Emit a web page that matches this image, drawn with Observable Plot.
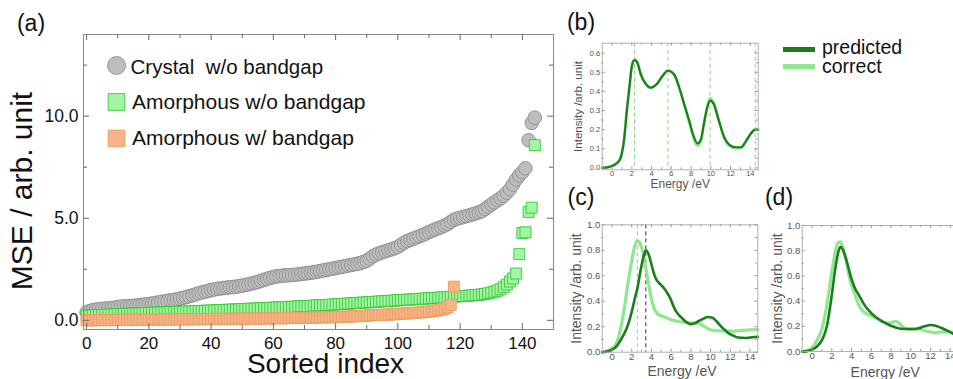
<!DOCTYPE html>
<html><head><meta charset="utf-8">
<script src="https://cdn.jsdelivr.net/npm/d3@7"></script>
<script src="https://cdn.jsdelivr.net/npm/@observablehq/plot@0.6"></script>
<style>
body{margin:0;background:#fff;overflow:hidden}
#root{position:relative;width:953px;height:379px;overflow:hidden;font-family:"Liberation Sans",Arial,sans-serif;color:#111}
#root svg{position:absolute}
.lbl{position:absolute;font-size:23px;line-height:1;transform:translate(-50%,-50%);white-space:nowrap}
.leg{position:absolute;font-size:19.5px;line-height:1;transform:translateY(-50%);white-space:nowrap}
.bar{position:absolute;width:32px;height:5px}
</style></head><body><div id="root">
<div class="lbl" style="left:31px;top:23px">(a)</div>
<div class="lbl" style="left:581px;top:22px">(b)</div>
<div class="lbl" style="left:581px;top:197px">(c)</div>
<div class="lbl" style="left:779px;top:197px">(d)</div>
<div class="bar" style="left:783px;top:46.5px;background:#1a7f1a"></div>
<div class="leg" style="left:822px;top:47.5px">predicted</div>
<div class="bar" style="left:783px;top:63.5px;background:#8ee88e"></div>
<div class="leg" style="left:822px;top:67px">correct</div>
</div>
<script>
// ---------- Panel (a) data ----------
const crystalMSE = [
0.40,0.45,0.50,0.52,0.55,0.56,0.57,0.58,0.60,0.62,
0.65,0.67,0.68,0.69,0.70,0.71,0.72,0.74,0.76,0.78,
0.80,0.82,0.85,0.87,0.90,0.92,0.95,0.98,1.00,1.03,
1.06,1.10,1.14,1.18,1.22,1.27,1.32,1.36,1.40,1.44,
1.48,1.51,1.54,1.56,1.58,1.60,1.62,1.63,1.65,1.67,
1.70,1.73,1.76,1.80,1.84,1.88,1.93,1.98,2.03,2.08,
2.12,2.15,2.17,2.19,2.20,2.21,2.22,2.23,2.25,2.27,
2.29,2.31,2.33,2.35,2.38,2.41,2.44,2.47,2.50,2.53,
2.56,2.59,2.62,2.65,2.68,2.71,2.74,2.77,2.81,2.86,
2.92,3.02,3.14,3.22,3.28,3.33,3.38,3.43,3.48,3.53,
3.60,3.70,3.80,3.88,3.94,4.00,4.06,4.12,4.18,4.25,
4.32,4.39,4.45,4.51,4.57,4.64,4.72,4.82,4.92,4.98,
5.02,5.06,5.10,5.14,5.19,5.24,5.29,5.35,5.45,5.56,
5.67,5.78,5.88,5.98,6.10,6.25,6.42,6.65,6.90,7.10,
7.25,7.45,8.82,9.67,9.93];
const amorphNoGapMSE = [
0.22,0.23,0.24,0.25,0.26,0.26,0.27,0.28,0.28,0.29,
0.30,0.30,0.31,0.32,0.32,0.33,0.34,0.34,0.35,0.36,
0.36,0.37,0.37,0.38,0.38,0.39,0.39,0.40,0.40,0.41,
0.42,0.42,0.43,0.43,0.44,0.45,0.45,0.46,0.47,0.47,
0.48,0.49,0.49,0.50,0.51,0.51,0.52,0.53,0.53,0.54,
0.55,0.55,0.56,0.57,0.57,0.58,0.59,0.60,0.60,0.61,
0.62,0.63,0.63,0.64,0.65,0.66,0.66,0.67,0.68,0.69,
0.70,0.70,0.71,0.72,0.73,0.74,0.74,0.75,0.76,0.77,
0.78,0.79,0.80,0.81,0.82,0.83,0.84,0.85,0.86,0.87,
0.88,0.89,0.90,0.91,0.92,0.93,0.94,0.95,0.96,0.97,
0.98,0.99,1.00,1.01,1.02,1.03,1.04,1.05,1.06,1.07,
1.08,1.09,1.10,1.11,1.12,1.13,1.14,1.15,1.16,1.17,
1.18,1.19,1.20,1.21,1.22,1.24,1.25,1.27,1.29,1.32,
1.36,1.40,1.45,1.52,1.62,1.75,1.90,2.05,2.29,3.24,
4.28,4.31,5.31,5.52,8.58];
const amorphGapMSE = [
0.00,0.00,0.00,0.00,0.01,0.01,0.01,0.01,0.01,0.01,
0.02,0.02,0.02,0.02,0.02,0.03,0.03,0.03,0.03,0.03,
0.03,0.03,0.04,0.04,0.04,0.04,0.04,0.04,0.05,0.05,
0.05,0.05,0.05,0.05,0.05,0.06,0.06,0.06,0.06,0.06,
0.06,0.06,0.07,0.07,0.07,0.07,0.07,0.07,0.07,0.08,
0.08,0.08,0.08,0.08,0.08,0.09,0.09,0.09,0.09,0.09,
0.10,0.10,0.10,0.10,0.11,0.11,0.11,0.11,0.12,0.12,
0.12,0.13,0.13,0.13,0.14,0.14,0.14,0.15,0.15,0.16,
0.16,0.17,0.17,0.18,0.18,0.19,0.20,0.20,0.21,0.22,
0.23,0.24,0.25,0.26,0.26,0.27,0.28,0.28,0.29,0.30,
0.31,0.32,0.33,0.34,0.35,0.36,0.37,0.38,0.40,0.41,
0.43,0.45,0.47,0.50,0.53,0.57,0.64,0.76,1.65];
const seriesNames = ["Crystal  w/o bandgap", "Amorphous w/o bandgap", "Amorphous w/ bandgap"];
const indexTicks = [0,20,40,60,80,100,120,140];
const indexMinor = [10,30,50,70,90,110,130];
const mseTicks = [0,5,10];
const mseMinor = [2.5,7.5,12.5];

// ---------- Panels (b)-(d) data ----------
const energyTicks = [0,2,4,6,8,10,12,14];
const energyMinor = [1,3,5,7,9,11,13];
const intensityTicksB = [0,0.1,0.2,0.3,0.4,0.5,0.6];
const intensityMinorB = [0.05,0.15,0.25,0.35,0.45,0.55];
const intensityTicksCD = [0,0.2,0.4,0.6,0.8,1.0];
const intensityMinorCD = [0.1,0.3,0.5,0.7,0.9];

const energyB = [-1,-0.5,0,0.5,0.85,1.2,1.5,1.8,2.0,2.27,2.6,2.9,3.4,3.9,4.6,5.1,5.66,6.27,6.8,7.3,7.8,8.3,8.64,9.0,9.3,9.66,9.93,10.3,10.8,11.36,11.9,12.5,13.05,13.56,14.07,14.5,14.8];
const predictedB = [0,0.003,0.01,0.025,0.05,0.14,0.30,0.44,0.53,0.563,0.545,0.49,0.44,0.42,0.443,0.48,0.508,0.49,0.42,0.335,0.25,0.16,0.128,0.15,0.23,0.32,0.352,0.333,0.25,0.16,0.12,0.108,0.108,0.14,0.18,0.2,0.2];
const correctB = [0,0.003,0.01,0.026,0.052,0.145,0.31,0.45,0.535,0.567,0.548,0.49,0.44,0.418,0.442,0.48,0.51,0.49,0.42,0.33,0.24,0.15,0.117,0.14,0.23,0.325,0.363,0.34,0.25,0.155,0.115,0.103,0.105,0.138,0.18,0.2,0.2];
const peaksB = [2.27,5.66,9.93,14.5];

const energyC = [-1,-0.5,0,0.5,0.83,1.2,1.5,1.8,2.1,2.3,2.57,2.8,3.1,3.43,3.7,4.0,4.2,4.5,4.7,5.2,5.8,6.5,7.2,8.0,8.5,8.8,9.2,9.7,10.2,10.8,11.3,11.8,12.3,12.8,13.5,14.0,14.8];
const correctC = [0,0.01,0.03,0.08,0.17,0.32,0.48,0.63,0.76,0.83,0.876,0.86,0.8,0.66,0.54,0.42,0.36,0.31,0.295,0.28,0.26,0.245,0.235,0.23,0.23,0.228,0.21,0.185,0.172,0.168,0.168,0.166,0.166,0.168,0.172,0.175,0.178];
const predictedC = [0,0.005,0.02,0.05,0.09,0.14,0.19,0.26,0.35,0.42,0.5,0.6,0.72,0.8,0.77,0.69,0.63,0.57,0.55,0.51,0.44,0.32,0.26,0.22,0.23,0.245,0.26,0.276,0.27,0.225,0.185,0.15,0.13,0.115,0.112,0.115,0.12];
const peakCorrectC = [2.57];
const peakPredictedC = [3.43];

const energyD = [-1,-0.5,0,0.5,1.0,1.5,2.0,2.3,2.6,2.85,3.1,3.5,3.9,4.3,4.8,5.3,5.8,6.5,7.2,7.8,8.5,9.0,9.6,10.2,10.8,11.4,12.0,12.5,13.0,13.7,14.3,14.8];
const correctD = [0,0.005,0.03,0.09,0.18,0.37,0.63,0.77,0.86,0.87,0.83,0.7,0.55,0.46,0.36,0.31,0.29,0.265,0.235,0.225,0.24,0.21,0.18,0.178,0.18,0.165,0.155,0.148,0.155,0.16,0.15,0.14];
const predictedD = [0,0.003,0.015,0.04,0.09,0.2,0.45,0.63,0.77,0.83,0.81,0.72,0.6,0.51,0.44,0.37,0.32,0.27,0.235,0.21,0.19,0.18,0.178,0.178,0.185,0.2,0.21,0.205,0.19,0.165,0.14,0.115];

// ---------- helpers ----------
const FONT = "'Liberation Sans', Arial, sans-serif";
const DARK = "#1a7f1a", LIGHT = "#8ee88e";
const root = document.getElementById("root");
function place(svg, left, top) {
  svg.style.left = left + "px"; svg.style.top = top + "px";
  root.appendChild(svg);
}
function frameTicks(xMaj, xMin, yMaj, yMin, innerW, innerH, majLen, minLen, stroke) {
  const o = {stroke, strokeWidth: 1};
  return [
    Plot.ruleX(xMaj, {...o, insetTop: innerH - majLen}),
    Plot.ruleX(xMaj, {...o, insetBottom: innerH - majLen}),
    Plot.ruleX(xMin, {...o, insetTop: innerH - minLen}),
    Plot.ruleX(xMin, {...o, insetBottom: innerH - minLen}),
    Plot.ruleY(yMaj, {...o, insetRight: innerW - majLen}),
    Plot.ruleY(yMaj, {...o, insetLeft: innerW - majLen}),
    Plot.ruleY(yMin, {...o, insetRight: innerW - minLen}),
    Plot.ruleY(yMin, {...o, insetLeft: innerW - minLen})
  ];
}

// ---------- Panel (a) ----------
{
  const W = 560, H = 379, mL = 83, mR = 7, mT = 34, mB = 50;
  const crystal = crystalMSE.map((v, i) => ({i, v}));
  const amorph = amorphNoGapMSE.map((v, i) => ({i, v}));
  const amorphGap = amorphGapMSE.map((v, i) => ({i, v}));
  const gray = {fill: "#bdbdbd", stroke: "#8e8e8e", strokeWidth: 0.9};
  const green = {fill: "#a3f5a3", stroke: "#38c838", strokeWidth: 0.9};
  const orange = {fill: "#f5b487", stroke: "#ee9c60", strokeWidth: 0.9};
  const svg = Plot.plot({
    width: W, height: H, marginLeft: mL, marginRight: mR, marginTop: mT, marginBottom: mB,
    x: {domain: [-1, 150]}, y: {domain: [-0.45, 14]},
    style: {fontFamily: FONT, background: "transparent", color: "#111", overflow: "visible"},
    marks: [
      Plot.dot(crystal, {x: "i", y: "v", r: 6.8, ...gray}),
      Plot.dot(amorph, {x: "i", y: "v", symbol: "square", r: 6.2, ...green}),
      Plot.dot(amorphGap, {x: "i", y: "v", symbol: "square", r: 6.2, ...orange}),
      Plot.frame({stroke: "#8a8a8a"}),
      ...frameTicks(indexTicks, indexMinor, mseTicks, mseMinor, W - mL - mR, H - mT - mB, 6, 4, "#666"),
      Plot.axisX(indexTicks, {tickSize: 0, tickPadding: 7, fontSize: 17, label: null}),
      Plot.axisY(mseTicks, {tickSize: 0, tickPadding: 5, fontSize: 17.5, tickFormat: d3.format(".1f"), label: null}),
      Plot.text(["Sorted index"], {frameAnchor: "bottom", dx: 7, dy: 35, fontSize: 28, textAnchor: "middle", lineAnchor: "middle"}),
      Plot.text(["MSE / arb. unit"], {frameAnchor: "left", dx: -61, dy: 9, rotate: -90, fontSize: 30, textAnchor: "middle", lineAnchor: "middle"}),
      // legend
      Plot.dot([seriesNames[0]], {frameAnchor: "top-left", dx: 33, dy: 31, r: 9, ...gray}),
      Plot.dot([seriesNames[1]], {frameAnchor: "top-left", dx: 33, dy: 67.5, symbol: "square", r: 9.4, ...green}),
      Plot.dot([seriesNames[2]], {frameAnchor: "top-left", dx: 33, dy: 104, symbol: "square", r: 9.4, ...orange}),
      Plot.text([seriesNames[0]], {frameAnchor: "top-left", dx: 47, dy: 32.5, fontSize: 20.5, textAnchor: "start", lineAnchor: "middle"}),
      Plot.text([seriesNames[1]], {frameAnchor: "top-left", dx: 48.5, dy: 67.5, fontSize: 21, textAnchor: "start", lineAnchor: "middle"}),
      Plot.text([seriesNames[2]], {frameAnchor: "top-left", dx: 48.5, dy: 104, fontSize: 21, textAnchor: "start", lineAnchor: "middle"})
    ]
  });
  place(svg, 0, 0);
}

// ---------- spectrum panels ----------
function spectrum(cfg) {
  const pred = cfg.energy.map((e, i) => ({e, v: cfg.predicted[i]}));
  const corr = cfg.energy.map((e, i) => ({e, v: cfg.correct[i]}));
  const innerW = cfg.width - cfg.mL - cfg.mR, innerH = cfg.height - cfg.mT - cfg.mB;
  const svg = Plot.plot({
    width: cfg.width, height: cfg.height,
    marginLeft: cfg.mL, marginRight: cfg.mR, marginTop: cfg.mT, marginBottom: cfg.mB,
    x: {domain: [-1, 14.8]}, y: {domain: cfg.yDomain},
    style: {fontFamily: FONT, background: "transparent", color: "#555", overflow: "visible"},
    marks: [
      ...(cfg.peaksLight ? [Plot.ruleX(cfg.peaksLight, {stroke: "#86d886", strokeWidth: 1, strokeDasharray: "4,3"})] : []),
      ...(cfg.peaksDark ? [Plot.ruleX(cfg.peaksDark, {stroke: "#1f3f1f", strokeWidth: 1, strokeDasharray: "4,3"})] : []),
      Plot.line(corr, {x: "e", y: "v", curve: "monotone-x", stroke: LIGHT, strokeWidth: cfg.lw + 0.6}),
      Plot.line(pred, {x: "e", y: "v", curve: "monotone-x", stroke: DARK, strokeWidth: cfg.lw}),
      Plot.frame({stroke: "#b0b0b0"}),
      ...frameTicks(energyTicks, energyMinor, cfg.yTicks, cfg.yMinor, innerW, innerH, 3, 2, "#999"),
      Plot.axisX(energyTicks, {tickSize: 0, tickPadding: 1, fontSize: cfg.tickFont, label: null}),
      Plot.axisY(cfg.yTicks, {tickSize: 0, tickPadding: 2, fontSize: cfg.tickFont, tickFormat: d3.format(".1f"), label: null}),
      Plot.text(["Energy /eV"], {frameAnchor: "bottom", dx: cfg.xlDx, dy: cfg.xlDy, fontSize: cfg.xlFont, textAnchor: "middle", lineAnchor: "middle", fill: "#555"}),
      Plot.text(["Intensity /arb. unit"], {frameAnchor: "left", dx: cfg.ylDx, dy: 0, rotate: -90, fontSize: cfg.ylFont, textAnchor: "middle", lineAnchor: "middle", fill: "#555"})
    ]
  });
  place(svg, cfg.left, cfg.top);
}

spectrum({left: 560, top: 0, width: 393, height: 190, mL: 41.7, mR: 195.3, mT: 42.7, mB: 20.7,
  energy: energyB, predicted: predictedB, correct: correctB, yDomain: [-0.01, 0.652],
  yTicks: intensityTicksB, yMinor: intensityMinorB, peaksLight: peaksB, lw: 2.2,
  tickFont: 7.5, xlFont: 12, xlDx: 0, xlDy: 14, ylFont: 11.5, ylDx: -24});

spectrum({left: 560, top: 190, width: 200, height: 189, mL: 41.7, mR: 2.7, mT: 34.3, mB: 27.3,
  energy: energyC, predicted: predictedC, correct: correctC, yDomain: [0, 1],
  yTicks: intensityTicksCD, yMinor: intensityMinorCD, peaksLight: peakCorrectC, peaksDark: peakPredictedC, lw: 2.6,
  tickFont: 9.5, xlFont: 14, xlDx: 2, xlDy: 19.5, ylFont: 14, ylDx: -26});

spectrum({left: 760, top: 190, width: 200, height: 189, mL: 41.7, mR: 2.3, mT: 35, mB: 28,
  energy: energyD, predicted: predictedD, correct: correctD, yDomain: [0, 1],
  yTicks: intensityTicksCD, yMinor: intensityMinorCD, lw: 2.6,
  tickFont: 9.5, xlFont: 14, xlDx: 5, xlDy: 21, ylFont: 14, ylDx: -25});
</script></body></html>
